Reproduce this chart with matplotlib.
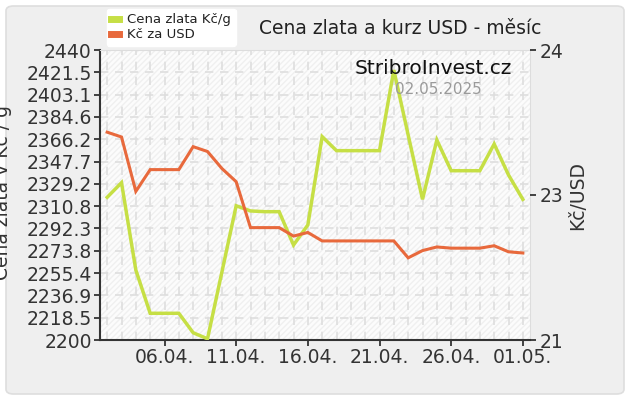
import numpy as np
import pandas as pd
import matplotlib
matplotlib.use('Agg')
import matplotlib.pyplot as plt
import matplotlib.dates as mdates
from matplotlib.patches import FancyBboxPatch, Rectangle
from matplotlib.lines import Line2D

plt.rcParams['font.family'] = 'DejaVu Sans'

# data, daily 02.04.2025 - 01.05.2025
dates = pd.date_range('2025-04-02', '2025-05-01', freq='D')
gold_czk_g = [2318.1, 2330.2, 2257.9, 2222.1, 2222.1, 2222.1, 2206.0, 2201.0,
              2256.0, 2311.1, 2306.8, 2306.2, 2306.2, 2278.6, 2295.2, 2368.3,
              2356.7, 2356.7, 2356.7, 2356.7, 2423.4, 2369.7, 2316.4, 2365.5,
              2340.1, 2340.1, 2340.1, 2362.2, 2336.6, 2316.4]
czk_usd = [23.02, 22.98, 22.53, 22.71, 22.71, 22.71, 22.90, 22.86,
           22.72, 22.61, 22.23, 22.23, 22.23, 22.16, 22.19, 22.12,
           22.12, 22.12, 22.12, 22.12, 22.12, 21.98, 22.04, 22.07,
           22.06, 22.06, 22.06, 22.08, 22.03, 22.02]

left_ticks = [2200, 2218.5, 2236.9, 2255.4, 2273.8, 2292.3, 2310.8, 2329.2,
              2347.7, 2366.2, 2384.6, 2403.1, 2421.5, 2440]
right_ticks = [21.3, 22.5, 23.7]
right_labels = ['21', '23', '24']
x_tick_dates = pd.to_datetime(['2025-04-06', '2025-04-11', '2025-04-16',
                               '2025-04-21', '2025-04-26', '2025-05-01'])

gold_color = '#c6df45'
usd_color = '#e8693c'
text_color = '#333333'

fig = plt.figure(figsize=(6.3, 4), dpi=100, facecolor='white')

# grey rounded panel behind everything
panel = FancyBboxPatch((6 / 630, 6 / 400), 618 / 630, 388 / 400,
                       boxstyle='round,pad=0,rounding_size=0.012',
                       transform=fig.transFigure, facecolor='#efefef',
                       edgecolor='#dedede', lw=1.2, zorder=-10)
fig.patches.append(panel)

ax = fig.add_axes([100 / 630, 60 / 400, 430 / 630, 290 / 400])
ax.set_facecolor('white')

# faint hatched plot background
ax.add_patch(Rectangle((0, 0), 1, 1, transform=ax.transAxes, facecolor='#fcfcfc',
                       edgecolor='#f0f0f0', hatch='//////', lw=0, zorder=0))

xmin = pd.Timestamp('2025-04-01 12:00')
xmax = pd.Timestamp('2025-05-01 12:00')
ax.set_xlim(xmin, xmax)
ax.set_ylim(2200, 2440)

# grid
for d in dates:
    ax.axvline(d, color='#dedede', lw=1.2, ls=(0, (5, 4)), zorder=1)
for t in left_ticks[1:-1]:
    ax.axhline(t, color='#dedede', lw=1.2, ls=(0, (5, 4)), zorder=1)

ax.set_yticks(left_ticks)
ax.set_yticklabels([f'{t:g}' for t in left_ticks])
ax.set_xticks(x_tick_dates)
ax.xaxis.set_major_formatter(mdates.DateFormatter('%d.%m.'))
ax.tick_params(axis='y', labelsize=13.5, colors=text_color, length=4, width=1.3, pad=2)
ax.tick_params(axis='x', labelsize=13.5, colors=text_color, length=4, width=1.3, pad=2)

for s in ['left', 'bottom']:
    ax.spines[s].set_color(text_color)
    ax.spines[s].set_linewidth(1.5)
for s in ['top', 'right']:
    ax.spines[s].set_color('#dddddd')

ax2 = ax.twinx()
ax2.set_ylim(21.3, 23.7)
ax2.set_yticks(right_ticks)
ax2.set_yticklabels(right_labels)
ax2.tick_params(axis='y', labelsize=13.5, colors=text_color, length=4, width=1.3, pad=3)
for s in ['top', 'right', 'left', 'bottom']:
    ax2.spines[s].set_visible(False)

ax.plot(dates, gold_czk_g, color=gold_color, lw=2.5, solid_joinstyle='miter', zorder=3)
ax2.plot(dates, czk_usd, color=usd_color, lw=2.2, solid_joinstyle='miter', zorder=3)

# axis titles (left one is partly cut by the edge, like the original)
fig.text(2 / 630, 1 - 193 / 400, 'Cena zlata v Kč / g', rotation=90, ha='center',
         va='center', fontsize=13.5, color=text_color)
fig.text(578 / 630, 1 - 195 / 400, 'Kč/USD', rotation=90, ha='center', va='center',
         fontsize=13.5, color=text_color)

fig.text(400 / 630, 1 - 28 / 400, 'Cena zlata a kurz USD - měsíc', ha='center',
         va='center', fontsize=13.5, color='#222222')

# watermark
fig.text(433 / 630, 1 - 68 / 400, 'StribroInvest.cz', ha='center', va='center',
         fontsize=14.5, color='#111111', zorder=5)
fig.text(438 / 630, 1 - 89 / 400, '02.05.2025', ha='center', va='center',
         fontsize=11, color='#9a9a9a', zorder=5)

# legend
handles = [Line2D([], [], color=gold_color, lw=5),
           Line2D([], [], color=usd_color, lw=5)]
leg = fig.legend(handles, ['Cena zlata Kč/g', 'Kč za USD'], loc='upper left',
                 bbox_to_anchor=(100 / 630, 1 - 2 / 400), fontsize=9.5,
                 handlelength=0.6, handletextpad=0.6, labelspacing=0.15,
                 borderpad=0.35, frameon=True, fancybox=True, framealpha=1,
                 edgecolor='white', facecolor='white')
for t in leg.get_texts():
    t.set_color('#222222')

fig.savefig('out.png', dpi=100, facecolor='white')
